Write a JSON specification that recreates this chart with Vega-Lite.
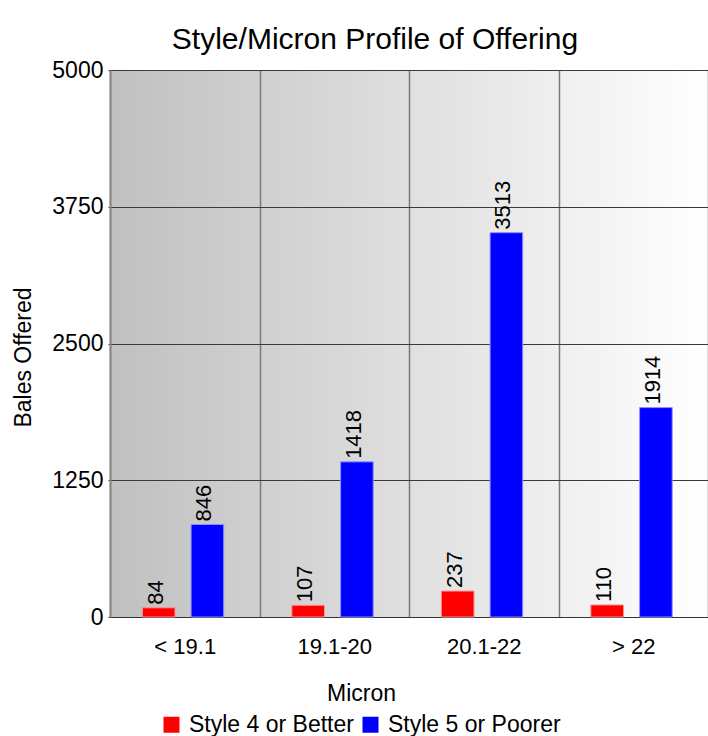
{
  "$schema": "https://vega.github.io/schema/vega-lite/v6.json",
  "autosize": "none",
  "padding": {"left": 110, "top": 70, "right": 0, "bottom": 119},
  "width": 598,
  "height": 547,
  "background": "white",
  "title": {
    "text": "Style/Micron Profile of Offering",
    "font": "Liberation Sans",
    "fontSize": 30,
    "fontWeight": "normal",
    "color": "black",
    "anchor": "middle",
    "baseline": "alphabetic",
    "offset": 18,
    "dx": -34,
    "dy": 38
  },
  "data": {
    "values": [
      {"Micron": "< 19.1", "Style": "Style 4 or Better", "Bales": 84},
      {"Micron": "< 19.1", "Style": "Style 5 or Poorer", "Bales": 846},
      {"Micron": "19.1-20", "Style": "Style 4 or Better", "Bales": 107},
      {"Micron": "19.1-20", "Style": "Style 5 or Poorer", "Bales": 1418},
      {"Micron": "20.1-22", "Style": "Style 4 or Better", "Bales": 237},
      {"Micron": "20.1-22", "Style": "Style 5 or Poorer", "Bales": 3513},
      {"Micron": "> 22", "Style": "Style 4 or Better", "Bales": 110},
      {"Micron": "> 22", "Style": "Style 5 or Poorer", "Bales": 1914}
    ]
  },
  "encoding": {
    "x": {
      "field": "Micron",
      "type": "nominal",
      "sort": ["< 19.1", "19.1-20", "20.1-22", "> 22"],
      "scale": {"paddingInner": 0, "paddingOuter": 0},
      "axis": {
        "title": "Micron",
        "labelAngle": 0,
        "labelFont": "Liberation Sans",
        "labelFontSize": 22,
        "labelColor": "black",
        "labelBaseline": "alphabetic",
        "labelPadding": 36,
        "ticks": false,
        "tickSize": 0,
        "tickBand": "extent",
        "grid": true,
        "gridColor": "#7a7a7a",
        "gridWidth": 1.5,
        "domainColor": "#333333",
        "domainWidth": 1,
        "titleFont": "Liberation Sans",
        "titleFontSize": 23,
        "titleFontWeight": "normal",
        "titleColor": "black",
        "titleX": 251,
        "titleY": 83,
        "titleAlign": "center",
        "titleBaseline": "alphabetic"
      }
    },
    "y": {
      "field": "Bales",
      "type": "quantitative",
      "scale": {"domain": [0, 5000], "nice": false},
      "axis": {
        "title": "Bales Offered",
        "values": [0, 1250, 2500, 3750, 5000],
        "format": "d",
        "labelFont": "Liberation Sans",
        "labelFontSize": 23,
        "labelColor": "black",
        "labelBaseline": "middle",
        "labelPadding": 5,
        "tickSize": 2,
        "tickColor": "#333333",
        "grid": true,
        "gridColor": "#3a3a3a",
        "gridWidth": 1,
        "domainColor": "#8a8a8a",
        "domainWidth": 2,
        "titleFont": "Liberation Sans",
        "titleFontSize": 23,
        "titleFontWeight": "normal",
        "titleColor": "black",
        "titleAngle": 270,
        "titleX": -80,
        "titleY": 287,
        "titleAlign": "center",
        "titleBaseline": "alphabetic"
      }
    }
  },
  "layer": [
    {
      "mark": {"type": "bar", "strokeWidth": 1},
      "encoding": {
        "xOffset": {
          "field": "Style",
          "type": "nominal",
          "scale": {"paddingInner": 0.33, "paddingOuter": 0.7, "align": 0.475}
        },
        "color": {
          "field": "Style",
          "type": "nominal",
          "scale": {"domain": ["Style 4 or Better", "Style 5 or Poorer"], "range": ["#ff0000", "#0000ff"]},
          "legend": {
            "title": null,
            "orient": "none",
            "direction": "horizontal",
            "legendX": 50,
            "legendY": 643,
            "padding": 0,
            "symbolType": "square",
            "symbolSize": 256,
            "symbolStrokeWidth": 0,
            "symbolOpacity": 1,
            "labelFont": "Liberation Sans",
            "labelFontSize": 23,
            "labelColor": "black",
            "labelOffset": 6,
            "labelLimit": 400,
            "columnPadding": 5
          }
        },
        "stroke": {
          "field": "Style",
          "type": "nominal",
          "scale": {"domain": ["Style 4 or Better", "Style 5 or Poorer"], "range": ["#ff9090", "#9090ff"]},
          "legend": null
        }
      }
    },
    {
      "mark": {
        "type": "text",
        "angle": 270,
        "align": "left",
        "baseline": "alphabetic",
        "dx": 3,
        "dy": 4,
        "font": "Liberation Sans",
        "fontSize": 22,
        "color": "black"
      },
      "encoding": {
        "xOffset": {"field": "Style", "type": "nominal"},
        "text": {"field": "Bales", "type": "quantitative"}
      }
    }
  ],
  "config": {
    "view": {
      "stroke": null,
      "fill": {
        "gradient": "linear",
        "x1": 0, "y1": 0, "x2": 1, "y2": 0,
        "stops": [
          {"offset": 0, "color": "#c0c0c0"},
          {"offset": 1, "color": "#ffffff"}
        ]
      }
    }
  }
}
